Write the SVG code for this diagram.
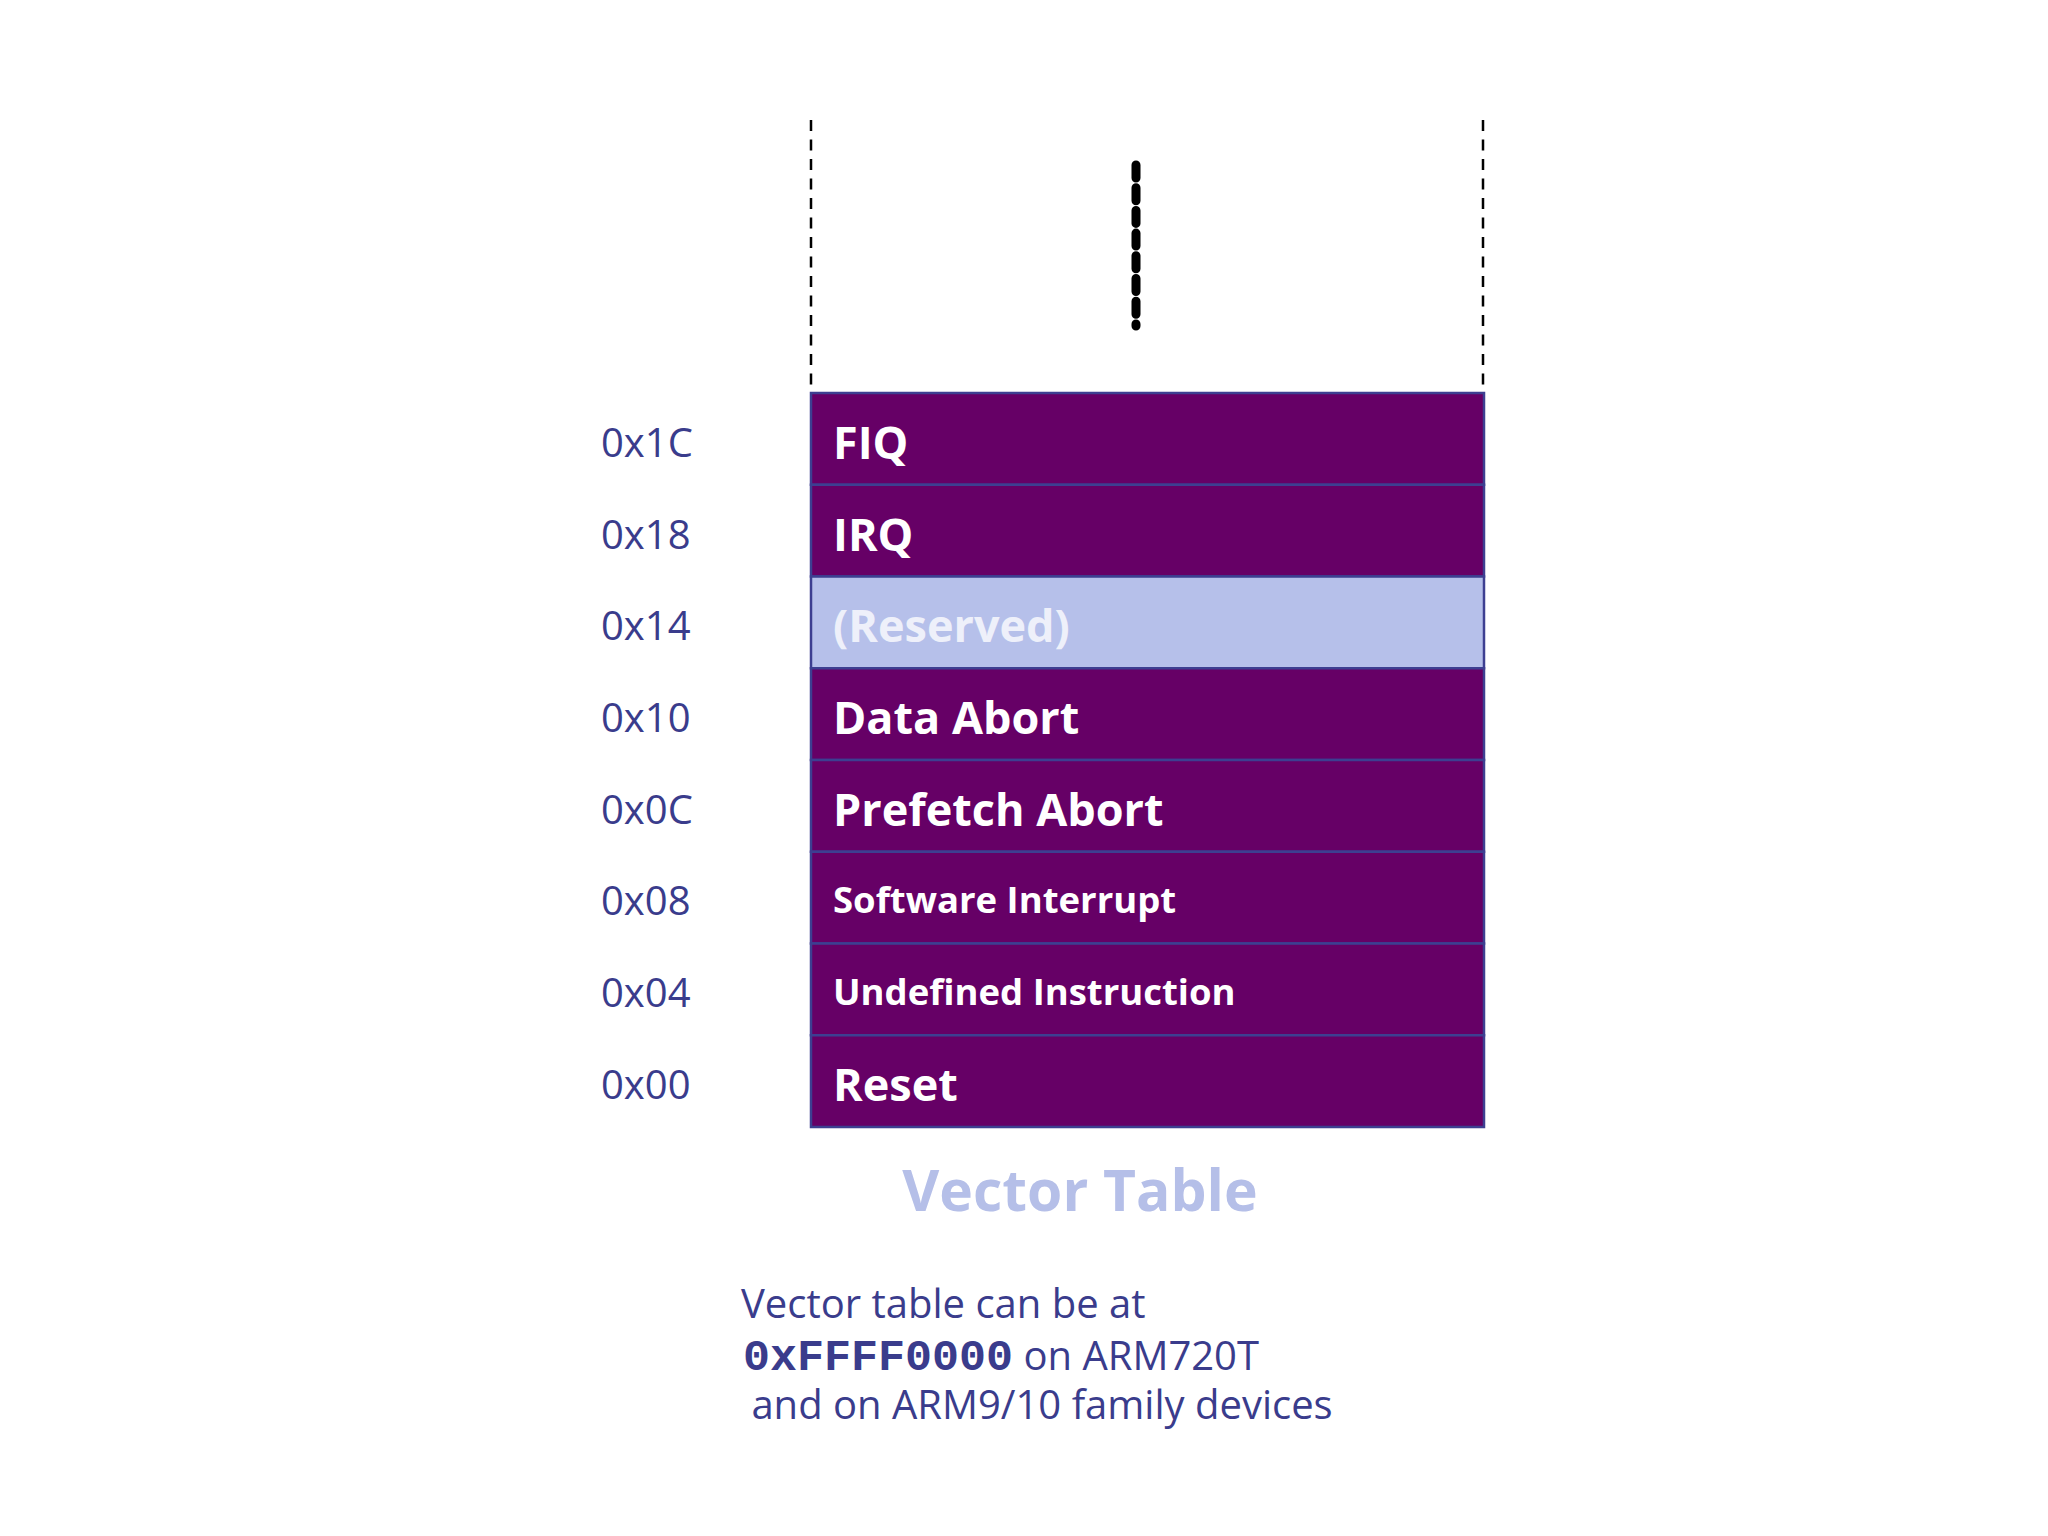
<svg xmlns="http://www.w3.org/2000/svg" width="2048" height="1536" viewBox="0 0 2048 1536">
<style>
.row{fill:#660066;stroke:#3d3f91;stroke-width:2.5}
.rsv{fill:#b6c0ea;stroke:#3d3f91;stroke-width:2.5}
.lbl{font-family:"Open Sans","Noto Sans","Liberation Sans",sans-serif;font-weight:700;fill:#ffffff}
.big{font-size:45px}
.small{font-size:36.5px}
.addr{font-family:"Open Sans","Noto Sans","Liberation Sans",sans-serif;font-size:40px;fill:#3a3c8c}
.note{font-family:"Open Sans","Noto Sans","Liberation Sans",sans-serif;font-size:40px;fill:#3a3c8c}
.mono{font-family:"Liberation Mono","Courier New",monospace;font-weight:700;font-size:45px}
.dash{stroke:#000;stroke-width:2.5;stroke-dasharray:11 8.5;fill:none}
</style>
<rect width="2048" height="1536" fill="#ffffff"/>
<g id="connectors">
<line class="dash" x1="811" y1="120" x2="811" y2="390"/>
<line class="dash" x1="1483" y1="120" x2="1483" y2="390"/>
<line x1="1136" y1="165" x2="1136" y2="326" stroke="#000" stroke-width="9" stroke-linecap="round" stroke-dasharray="13 9.7"/>
</g>
<g id="fiq"><rect class="row" x="811" y="393" width="673" height="91.75"/><text class="lbl big" x="833" y="459">FIQ</text><text class="addr" x="601" y="457">0x1C</text></g>
<g id="irq"><rect class="row" x="811" y="484.75" width="673" height="91.75"/><text class="lbl big" x="833" y="551">IRQ</text><text class="addr" x="601" y="549">0x18</text></g>
<g id="reserved"><rect class="rsv" x="811" y="576.5" width="673" height="91.75"/><text class="lbl big" x="833" y="642" style="fill:#eef0fa">(Reserved)</text><text class="addr" x="601" y="640">0x14</text></g>
<g id="dataabort"><rect class="row" x="811" y="668.25" width="673" height="91.75"/><text class="lbl big" x="833" y="734">Data Abort</text><text class="addr" x="601" y="732">0x10</text></g>
<g id="prefetchabort"><rect class="row" x="811" y="760" width="673" height="91.75"/><text class="lbl big" x="833" y="826">Prefetch Abort</text><text class="addr" x="601" y="824">0x0C</text></g>
<g id="swi"><rect class="row" x="811" y="851.75" width="673" height="91.75"/><text class="lbl small" x="833" y="913">Software Interrupt</text><text class="addr" x="601" y="915">0x08</text></g>
<g id="undef"><rect class="row" x="811" y="943.5" width="673" height="91.75"/><text class="lbl small" x="833" y="1005">Undefined Instruction</text><text class="addr" x="601" y="1007">0x04</text></g>
<g id="reset"><rect class="row" x="811" y="1035.25" width="673" height="91.75"/><text class="lbl big" x="833" y="1101">Reset</text><text class="addr" x="601" y="1099">0x00</text></g>
<g id="title"><text x="1080" y="1211" text-anchor="middle" font-family="Open Sans, Noto Sans, Liberation Sans, sans-serif" font-weight="700" font-size="57" fill="#b5bfe8">Vector Table</text></g>
<g id="note">
<text class="note" x="741" y="1318">Vector table can be at</text>
<text class="note" x="743" y="1370"><tspan class="mono">0xFFFF0000</tspan> on ARM720T</text>
<text class="note" x="741" y="1419" xml:space="preserve"> and on ARM9/10 family devices</text>
</g>
</svg>
